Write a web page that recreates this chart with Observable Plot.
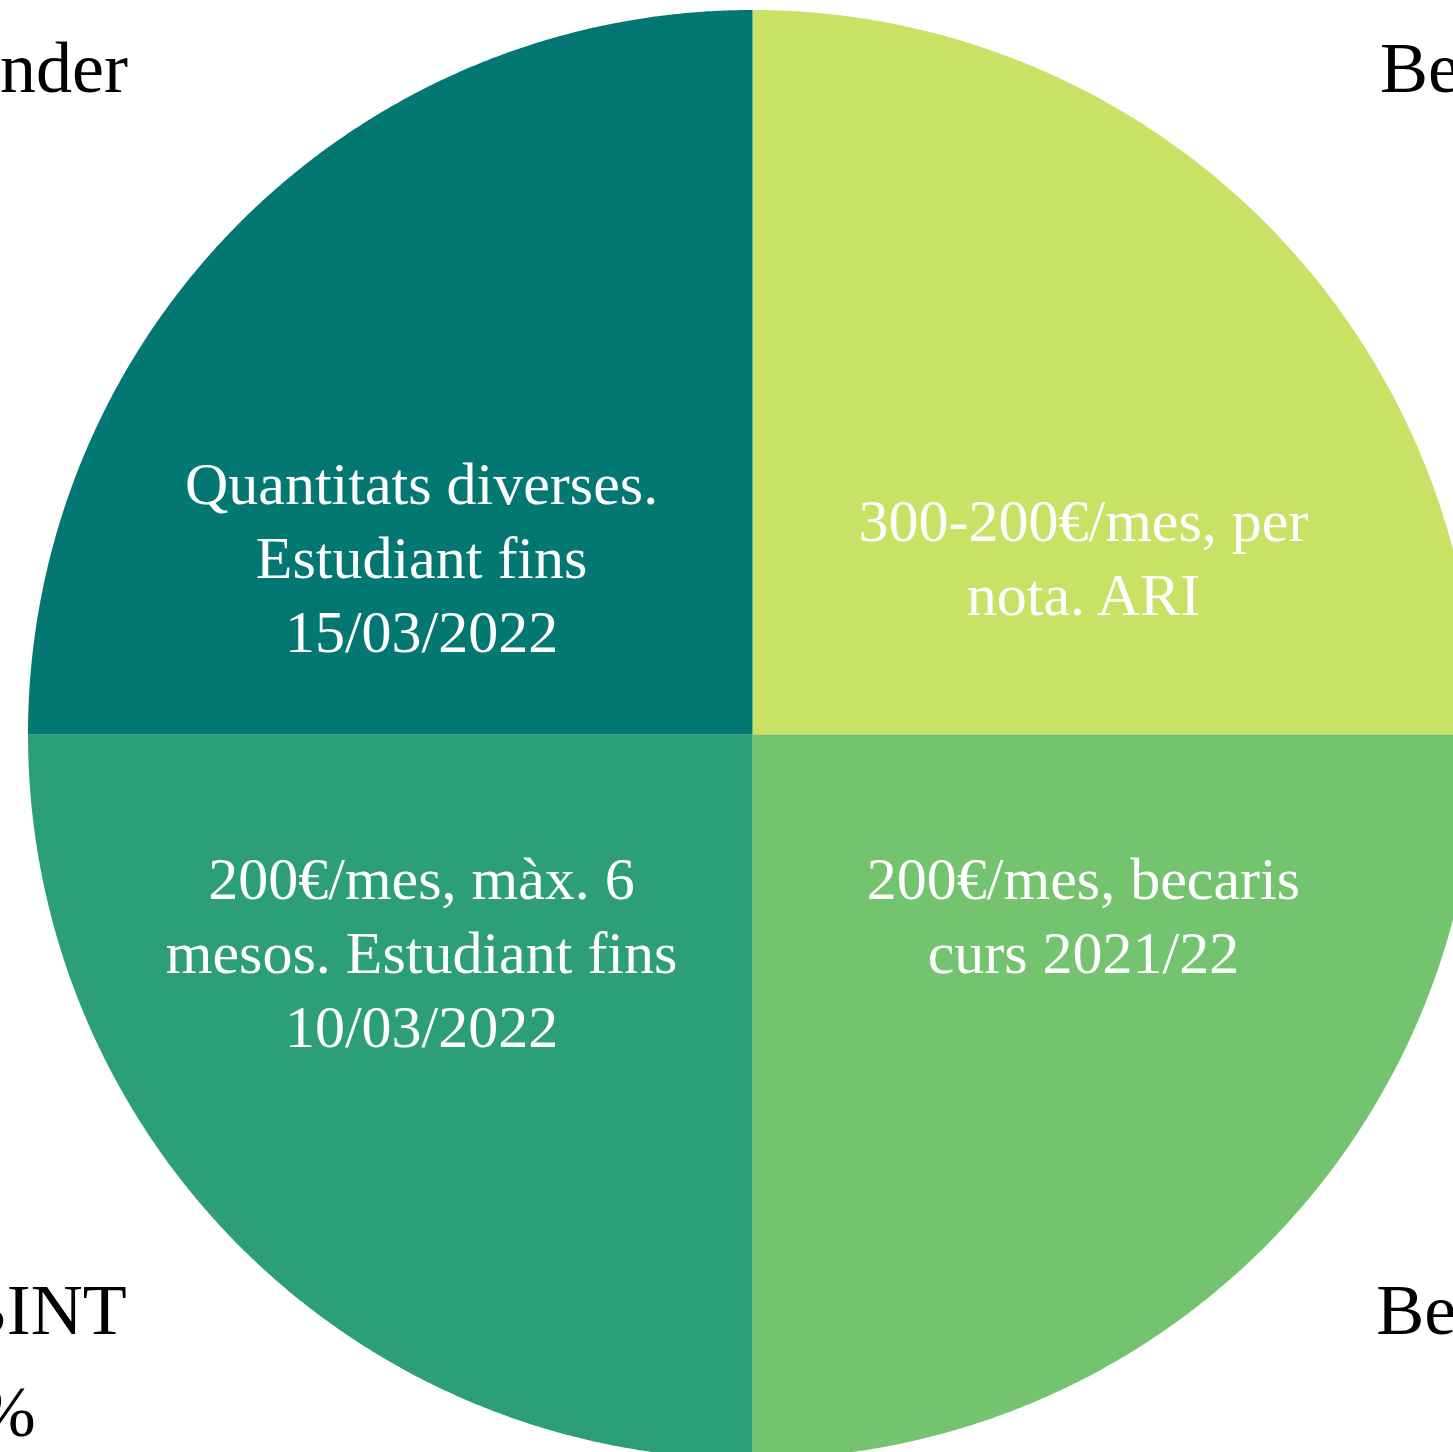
<!DOCTYPE html>
<html>
<head>
<meta charset="utf-8">
<script src="https://cdn.jsdelivr.net/npm/d3@7"></script>
<script src="https://cdn.jsdelivr.net/npm/@observablehq/plot@0.6"></script>
<style>
  html, body { margin: 0; padding: 0; background: #ffffff; overflow: hidden; }
  #chart svg { display: block; }
</style>
</head>
<body>
<div id="chart"></div>
<script>
// ---- data (clockwise from 12 o'clock) ----
const names = ["Beca ARI", "Beca MEC", "Ajut BINT", "Santander"];
const shares = [25, 25, 25, 25];
const descriptions = [
  "300-200€/mes, per\nnota. ARI",
  "200€/mes, becaris\ncurs 2021/22",
  "200€/mes, màx. 6\nmesos. Estudiant fins\n10/03/2022",
  "Quantitats diverses.\nEstudiant fins\n15/03/2022"
];
const colors = ["#C9E265", "#73C36F", "#2C9E7A", "#037771"];

// ---- layout ----
const W = 1453, H = 1452;
const cx = 752, cy = 734, R = 724.5;
const SERIF = "'Liberation Serif', 'Times New Roman', serif";

const rows = names.map((name, i) => ({name, share: shares[i], desc: descriptions[i]}));
const arcs = d3.pie().sort(null).value(d => d.share)(rows);

// slice outlines in unit-circle coordinates (angle measured clockwise from 12 o'clock)
const outline = [];
for (const a of arcs) {
  outline.push({name: a.data.name, x: 0, y: 0});
  const n = Math.max(2, Math.ceil((a.endAngle - a.startAngle) / (Math.PI / 720)));
  for (let k = 0; k <= n; ++k) {
    const t = a.startAngle + (a.endAngle - a.startAngle) * k / n;
    outline.push({name: a.data.name, x: Math.sin(t), y: Math.cos(t)});
  }
}

const labels = arcs.map(a => {
  const mid = (a.startAngle + a.endAngle) / 2;
  const s = Math.sin(mid), c = Math.cos(mid);
  const top = c > 0;
  return {
    name: a.data.name,
    desc: a.data.desc,
    top,
    outer: top ? a.data.name : `${a.data.name}\n${d3.format(".0%")(a.data.share / d3.sum(shares))}`,
    ix: 0.646 * s,
    iy: (top ? 0.352 : 0.219) * c,
    ox: (top ? 1.500 : 1.528) * s,
    oy: (top ? 1.254 : 1.206) * c
  };
});

const chart = Plot.plot({
  width: W,
  height: H,
  margin: 0,
  style: {background: "#ffffff", overflow: "hidden"},
  x: {domain: [-1, 1], range: [cx - R, cx + R], axis: null},
  y: {domain: [-1, 1], range: [cy + R, cy - R], axis: null},
  color: {type: "ordinal", domain: names, range: colors},
  marks: [
    Plot.line(outline, {x: "x", y: "y", z: "name", fill: "name", stroke: "none", curve: "linear-closed"}),
    // inner descriptions
    Plot.text(labels.filter(d => d.top), {
      x: "ix", y: "iy", text: "desc", fill: "#ffffff",
      fontSize: 60, fontFamily: SERIF, lineHeight: 1.233, lineAnchor: "middle", textAnchor: "middle"
    }),
    Plot.text(labels.filter(d => !d.top), {
      x: "ix", y: "iy", text: "desc", fill: "#ffffff",
      fontSize: 60, fontFamily: SERIF, lineHeight: 1.233, lineAnchor: "top", textAnchor: "middle"
    }),
    // outer labels
    Plot.text(labels.filter(d => d.top), {
      x: "ox", y: "oy", text: "outer", fill: "#000000",
      fontSize: 72, fontFamily: SERIF, lineHeight: 1.4167, lineAnchor: "bottom", textAnchor: "middle"
    }),
    Plot.text(labels.filter(d => !d.top), {
      x: "ox", y: "oy", text: "outer", fill: "#000000",
      fontSize: 72, fontFamily: SERIF, lineHeight: 1.4167, lineAnchor: "middle", textAnchor: "middle"
    })
  ]
});

document.getElementById("chart").appendChild(chart);
</script>
</body>
</html>
